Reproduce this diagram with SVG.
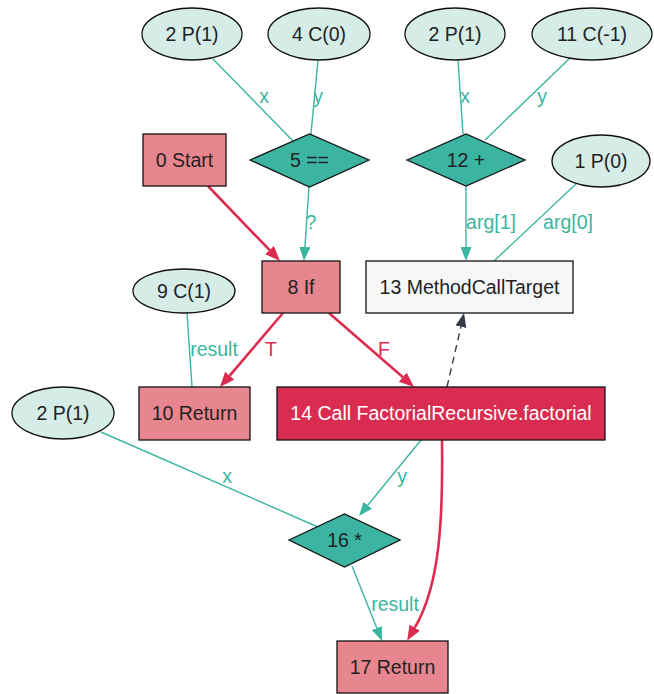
<svg xmlns="http://www.w3.org/2000/svg" width="654" height="694" viewBox="0 0 654 694">
  <style>
    text { font-family: "Liberation Sans", Arial, sans-serif; font-size: 19.5px; text-anchor: middle; }
    .lbl { fill: #222; }
    .call-lbl { fill: #ffffff; }
    .const { fill: #d6ede7; stroke: #111; stroke-width: 1.3; }
    .op { fill: #3bb4a1; stroke: #111; stroke-width: 1.3; }
    .ctl { fill: #e8868f; stroke: #111; stroke-width: 1.3; }
    .call { fill: #da2c50; stroke: #111; stroke-width: 1.3; }
    .plain { fill: #f7f7f7; stroke: #111; stroke-width: 1.3; }
    .data { fill: none; stroke: #3bb5a0; stroke-width: 1.4; }
    .flow { fill: none; stroke: #dc2c50; stroke-width: 2.6; }
    .dep { fill: none; stroke: #333c46; stroke-width: 1.4; stroke-dasharray: 7 5; }
    .dlab { fill: #3bb5a0; }
    .flab { fill: #dc2c50; }
  </style>
  <defs>
    <marker id="arrow-data" markerUnits="userSpaceOnUse" markerWidth="16" markerHeight="16" refX="0" refY="5.5" orient="auto">
      <path d="M0,0 L14,5.5 L0,11 z" fill="#3bb5a0"/>
    </marker>
    <marker id="arrow-flow" markerUnits="userSpaceOnUse" markerWidth="16" markerHeight="16" refX="0" refY="6" orient="auto">
      <path d="M0,0 L15,6 L0,12 z" fill="#dc2c50"/>
    </marker>
    <marker id="arrow-dep" markerUnits="userSpaceOnUse" markerWidth="16" markerHeight="16" refX="0" refY="5.5" orient="auto">
      <path d="M0,0 L14,5.5 L0,11 z" fill="#333c46"/>
    </marker>
  </defs>

  <!-- connectors -->
  <g id="edges">
    <path class="data" d="M213,59 L293,141"/>
    <text class="dlab" x="264" y="103">x</text>
    <path class="data" d="M318,60 L311,134"/>
    <text class="dlab" x="318" y="103">y</text>
    <path class="data" d="M458,60 L463,134"/>
    <text class="dlab" x="465" y="103">x</text>
    <path class="data" d="M569,59 L485,140"/>
    <text class="dlab" x="542" y="103">y</text>

    <path class="flow" d="M208,186 L269.6,250.2" marker-end="url(#arrow-flow)"/>
    <path class="data" d="M309,187 L304.9,247" marker-end="url(#arrow-data)"/>
    <text class="dlab" x="311" y="229">?</text>
    <path class="data" d="M466,186 L466,247" marker-end="url(#arrow-data)"/>
    <text class="dlab" x="491" y="229">arg[1]</text>
    <path class="data" d="M577,183 L494,261"/>
    <text class="dlab" x="568" y="229">arg[0]</text>

    <path class="data" d="M187,313 L192,387"/>
    <text class="dlab" x="214" y="356">result</text>
    <path class="flow" d="M283,313 L229.7,375.6" marker-end="url(#arrow-flow)"/>
    <text class="flab" x="271" y="356">T</text>
    <path class="flow" d="M329,313 L402.7,377.1" marker-end="url(#arrow-flow)"/>
    <text class="flab" x="384" y="356">F</text>
    <path class="dep" d="M447,387 L460.9,326.7" marker-end="url(#arrow-dep)"/>

    <path class="data" d="M101,432 L318,527"/>
    <text class="dlab" x="227" y="483">x</text>
    <path class="data" d="M421,440 L367.8,505.2" marker-end="url(#arrow-data)"/>
    <text class="dlab" x="402" y="483">y</text>
    <path class="data" d="M352,566 L376.8,628" marker-end="url(#arrow-data)"/>
    <text class="dlab" x="395" y="611">result</text>
    <path class="flow" d="M442,440 C443,520 440,585 414.8,627.6" marker-end="url(#arrow-flow)"/>
  </g>

  <!-- nodes -->
  <g id="n2a"><ellipse class="const" cx="192" cy="34" rx="50" ry="26"/><text class="lbl" x="192" y="41">2 P(1)</text></g>
  <g id="n4"><ellipse class="const" cx="319" cy="34" rx="51" ry="26"/><text class="lbl" x="319" y="41">4 C(0)</text></g>
  <g id="n2b"><ellipse class="const" cx="455" cy="34" rx="50" ry="26"/><text class="lbl" x="455" y="41">2 P(1)</text></g>
  <g id="n11"><ellipse class="const" cx="592" cy="34" rx="60" ry="26"/><text class="lbl" x="592" y="41">11 C(-1)</text></g>

  <g id="n0"><rect class="ctl" x="143" y="134" width="83" height="52"/><text class="lbl" x="184.5" y="167">0 Start</text></g>
  <g id="n5"><polygon class="op" points="250,160 309.5,134 369,160 309.5,187"/><text class="lbl" x="309.5" y="167">5 ==</text></g>
  <g id="n12"><polygon class="op" points="407,160 466,134 525,160 466,186"/><text class="lbl" x="466" y="167">12 +</text></g>
  <g id="n1"><ellipse class="const" cx="601" cy="161" rx="49" ry="26"/><text class="lbl" x="601" y="168">1 P(0)</text></g>

  <g id="n9"><ellipse class="const" cx="184" cy="291" rx="51" ry="22"/><text class="lbl" x="184" y="298">9 C(1)</text></g>
  <g id="n8"><rect class="ctl" x="262" y="261" width="78" height="52"/><text class="lbl" x="301" y="294">8 If</text></g>
  <g id="n13"><rect class="plain" x="366" y="261" width="207" height="52"/><text class="lbl" x="469.5" y="294">13 MethodCallTarget</text></g>

  <g id="n2c"><ellipse class="const" cx="63" cy="413" rx="51" ry="26"/><text class="lbl" x="63" y="420">2 P(1)</text></g>
  <g id="n10"><rect class="ctl" x="139" y="387" width="111" height="53"/><text class="lbl" x="194.5" y="420">10 Return</text></g>
  <g id="n14"><rect class="call" x="277" y="387" width="328" height="53"/><text class="call-lbl" x="441" y="420">14 Call FactorialRecursive.factorial</text></g>

  <g id="n16"><polygon class="op" points="289,540 344.5,514 400,540 344.5,567"/><text class="lbl" x="344.5" y="547">16 *</text></g>
  <g id="n17"><rect class="ctl" x="337" y="641" width="111" height="52"/><text class="lbl" x="392.5" y="674">17 Return</text></g>
</svg>
